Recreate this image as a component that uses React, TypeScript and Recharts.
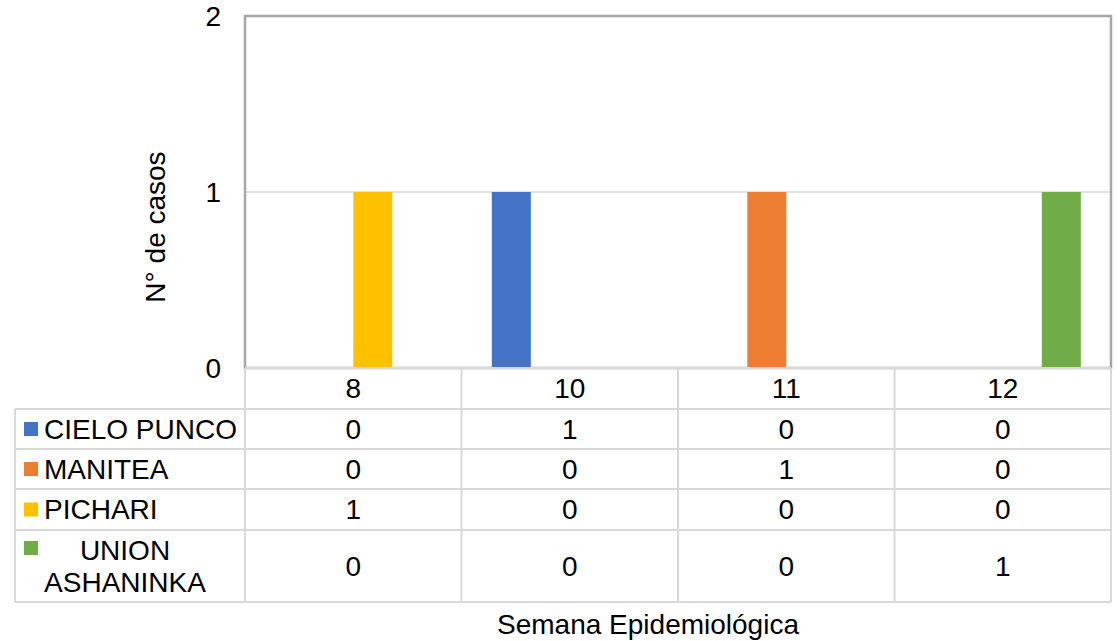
import React from "react";
import {
  BarChart, Bar, XAxis, YAxis, CartesianGrid, ReferenceArea, Label,
} from "recharts";

const categories = ["8", "10", "11", "12"];
const seriesNames = ["CIELO PUNCO", "MANITEA", "PICHARI", "UNION ASHANINKA"];
const seriesColors = ["#4472C4", "#ED7D31", "#FFC000", "#70AD47"];
const cieloPunco = [0, 1, 0, 0];
const manitea = [0, 0, 1, 0];
const pichari = [1, 0, 0, 0];
const unionAshaninka = [0, 0, 0, 1];
const yTicks = [0, 1, 2];

const seriesValues = [cieloPunco, manitea, pichari, unionAshaninka];

const data = categories.map((week, i) => ({
  week,
  s0: cieloPunco[i],
  s1: manitea[i],
  s2: pichari[i],
  s3: unionAshaninka[i],
}));

const W = 1120;
const H = 641;
const PLOT_LEFT = 245;
const PLOT_RIGHT = 1111;
const PLOT_TOP = 16;
const PLOT_BOTTOM = 368;
const BAND = (PLOT_RIGHT - PLOT_LEFT) / categories.length;
const TABLE_LEFT = 15;
const HEADER_H = 41;
const ROW_H = [40, 40, 41, 72];
const FONT = "'Liberation Sans', Arial, sans-serif";
const FS = 28;
const LINE = "#D9D9D9";

const rowTops = (y0: number) => {
  const tops: number[] = [];
  let y = y0 + HEADER_H;
  ROW_H.forEach((h) => { tops.push(y); y += h; });
  return { tops, bottom: y };
};

const TableTick = (props: any) => {
  const { x, y, payload } = props;
  const i = payload.index;
  const bx = x - BAND / 2;
  const { tops, bottom } = rowTops(y);
  return (
    <g>
      {i === 0 && <line x1={bx} x2={bx} y1={y} y2={bottom} stroke={LINE} strokeWidth={2} />}
      <line x1={bx + BAND} x2={bx + BAND} y1={y} y2={bottom} stroke={LINE} strokeWidth={2} />
      <text x={x} y={y + HEADER_H / 2} dy="0.35em" textAnchor="middle" fontSize={FS} fill="#000">
        {payload.value}
      </text>
      {tops.map((t, r) => (
        <g key={r}>
          <line x1={i === 0 ? TABLE_LEFT : bx} x2={bx + BAND} y1={t} y2={t} stroke={LINE} strokeWidth={2} />
          <text x={x} y={t + ROW_H[r] / 2} dy="0.35em" textAnchor="middle" fontSize={FS} fill="#000">
            {seriesValues[r][i]}
          </text>
        </g>
      ))}
      <line x1={i === 0 ? TABLE_LEFT : bx} x2={bx + BAND} y1={bottom} y2={bottom} stroke={LINE} strokeWidth={2} />
      {i === 0 && (
        <g>
          <line x1={TABLE_LEFT} x2={TABLE_LEFT} y1={tops[0]} y2={bottom} stroke={LINE} strokeWidth={2} />
          {seriesNames.map((name, r) => {
            const cy = tops[r] + ROW_H[r] / 2;
            const wrapped = name.length > 12;
            const lines = wrapped ? name.split(" ") : [name];
            return (
              <g key={name}>
                <rect x={24} y={wrapped ? tops[r] + 11 : cy - 7} width={14} height={14} fill={seriesColors[r]} />
                {lines.map((ln, k) => (
                  <text key={k} x={wrapped ? 125 : 44}
                    y={cy + (k - (lines.length - 1) / 2) * 32} dy="0.35em"
                    textAnchor={wrapped ? "middle" : "start"} fontSize={FS} fill="#000">
                    {ln}
                  </text>
                ))}
              </g>
            );
          })}
        </g>
      )}
    </g>
  );
};

export default function App() {
  return (
    <div style={{ position: "absolute", left: 0, top: 0, width: W, height: H, background: "#fff", fontFamily: FONT }}>
      <BarChart width={W} height={H} data={data}
        margin={{ top: PLOT_TOP, right: W - PLOT_RIGHT, left: 0, bottom: 0 }}
        barCategoryGap="14%" barGap={0} style={{ fontFamily: FONT }}>
        <CartesianGrid vertical={false} stroke={LINE} strokeWidth={1.5} />
        <ReferenceArea y1={0} y2={2} fill="none" stroke="#A6A6A6" strokeWidth={2.5} />
        <YAxis domain={[0, 2]} ticks={yTicks} width={PLOT_LEFT} axisLine={false} tickLine={false}
          tickSize={0} tickMargin={24} tick={{ fill: "#000", fontSize: FS }}>
          <Label content={() => (
            <text x={155} y={227} transform="rotate(-90 155 227)" dy="0.35em" textAnchor="middle"
              fontSize={FS} fill="#000">N° de casos</text>
          )} />
        </YAxis>
        <XAxis dataKey="week" height={H - PLOT_BOTTOM} axisLine={{ stroke: LINE, strokeWidth: 2 }}
          tickLine={false} tickSize={0} tickMargin={0} interval={0} tick={<TableTick />}>
          <Label content={() => (
            <text x={648} y={624} dy="0.35em" textAnchor="middle" fontSize={FS} fill="#000">
              Semana Epidemiológica
            </text>
          )} />
        </XAxis>
        {seriesNames.map((name, k) => (
          <Bar key={name} dataKey={`s${k}`} name={name} fill={seriesColors[k]} isAnimationActive={false} />
        ))}
      </BarChart>
    </div>
  );
}
